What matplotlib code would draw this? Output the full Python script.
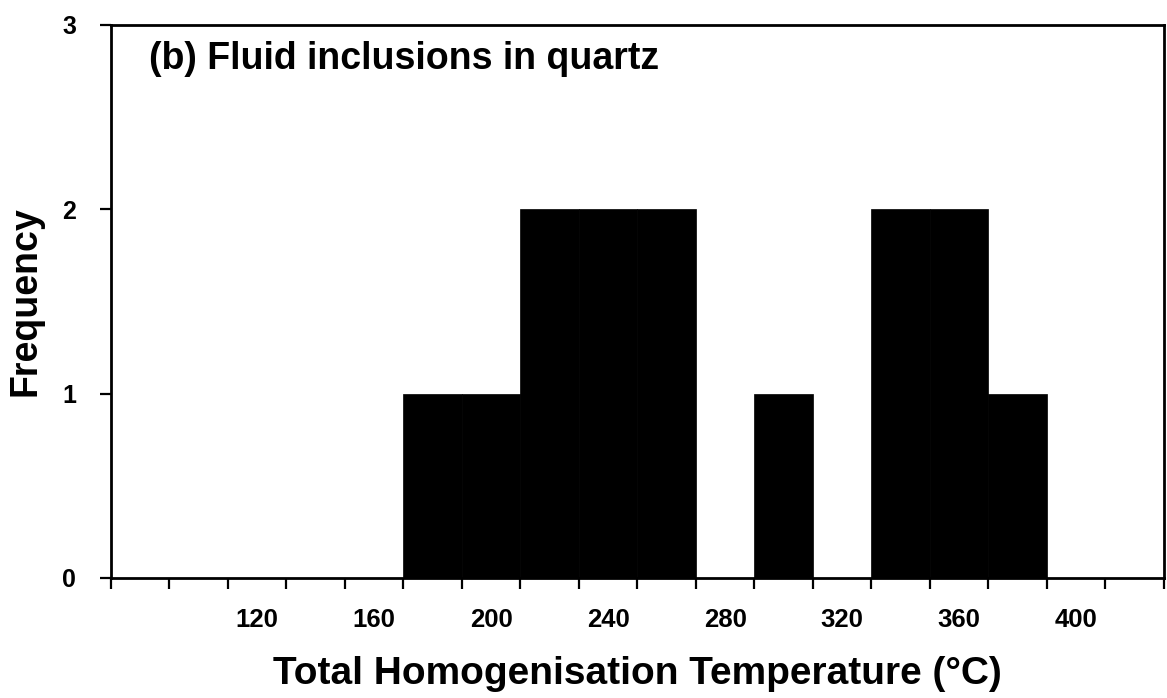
import matplotlib
matplotlib.use('Agg')
import matplotlib.pyplot as plt
import numpy as np

plt.rcParams['font.family'] = ['Liberation Sans', 'DejaVu Sans']
plt.rcParams['font.weight'] = 'bold'

# bin start temperatures (deg C), 20 degree bins
bins = [80, 100, 120, 140, 160, 180, 200, 220, 240, 260, 280, 300, 320, 340, 360, 380, 400, 420]
freq = [0, 0, 0, 0, 0, 1, 1, 2, 2, 2, 0, 1, 0, 2, 2, 1, 0, 0]
labelled = [120, 160, 200, 240, 280, 320, 360, 400]
yticks = [0, 1, 2, 3]

fig = plt.figure(figsize=(11.67, 6.98), dpi=100)
ax = fig.add_axes([0.0951, 0.172, 0.9023, 0.7922])

idx = np.arange(len(bins))
ax.bar(idx, freq, width=1.0, color='black', edgecolor='black', linewidth=0.5)

ax.set_xlim(-0.5, len(bins) - 0.5)
ax.set_ylim(0, 3)

# tick marks at the bin edges, labels at bin centres
ax.set_xticks(np.arange(len(bins) + 1) - 0.5)
ax.set_xticklabels([])
ax.set_xticks(idx, minor=True)
ax.set_xticklabels([str(b) if b in labelled else '' for b in bins], minor=True)
ax.tick_params(axis='x', which='major', direction='out', length=8, width=1.6)
ax.tick_params(axis='x', which='minor', length=0, pad=22, labelsize=18.5)

ax.set_yticks(yticks)
ax.set_yticklabels([str(v) for v in yticks])
ax.tick_params(axis='y', direction='out', length=8, width=1.6, pad=17, labelsize=18)

for s in ax.spines.values():
    s.set_linewidth(2.0)

ax.set_xlabel('Total Homogenisation Temperature (°C)', fontsize=28, fontweight='bold', va='center')
ax.xaxis.set_label_coords(0.5, -0.174)
ax.set_ylabel('Frequency', fontsize=27, fontweight='bold', va='center')
ax.yaxis.set_label_coords(-0.081, 0.5)

ax.text(0.036, 0.9204, '(b) Fluid inclusions in quartz', transform=ax.transAxes,
        fontsize=27, fontweight='bold', va='baseline', ha='left')

fig.savefig('out.png', dpi=100)
